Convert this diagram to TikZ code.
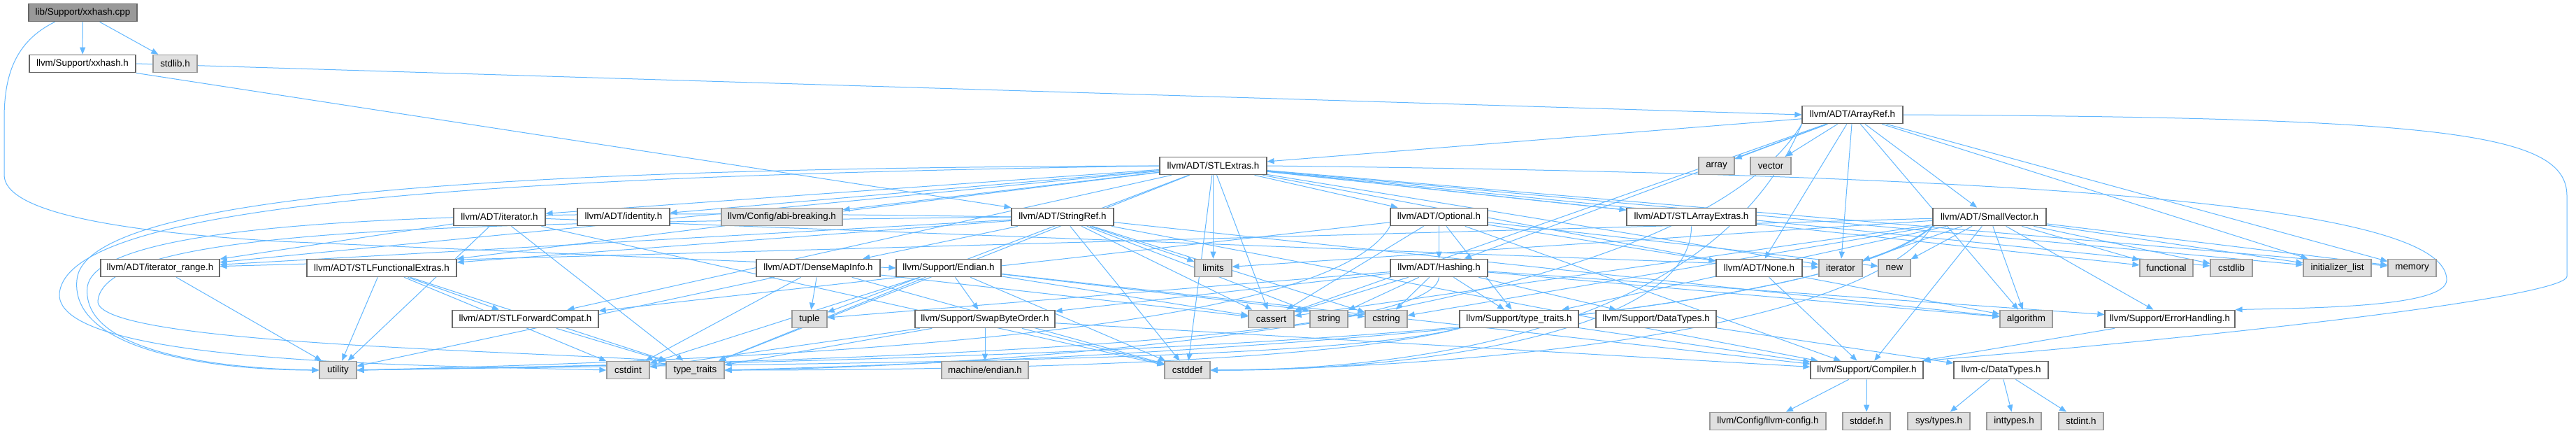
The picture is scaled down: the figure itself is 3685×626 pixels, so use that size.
\documentclass[tikz,border=0pt]{standalone}
\usepackage{fontspec}
\setmainfont{Liberation Sans}
\usetikzlibrary{arrows.meta}
\pgfdeclarelayer{back}
\pgfdeclarelayer{edges}
\pgfsetlayers{back,edges,main}
\definecolor{edgeblue}{HTML}{63B8FF}
\definecolor{hdrborder}{HTML}{666666}
\definecolor{sysfill}{HTML}{E0E0E0}
\definecolor{sysborder}{HTML}{999999}
\definecolor{mainfill}{HTML}{999999}
\tikzset{
  hdr/.style={draw=hdrborder, fill=white, line width=1.2pt, minimum height=25.5pt, inner sep=0pt, font=\fontsize{13.4}{16}\selectfont},
  sys/.style={hdr, draw=sysborder, fill=sysfill},
  root/.style={hdr, fill=mainfill},
  dep/.style={draw=edgeblue, line width=1pt, -{Triangle[length=10pt,width=8pt]}},
}
\begin{document}
\begin{tikzpicture}[x=1pt,y=-1pt]
\begin{pgfonlayer}{back}
\fill[white] (0,0) rectangle (3685,626);
\end{pgfonlayer}
\useasboundingbox (0,0) rectangle (3685,626);
% row 0-2
\node[root, minimum width=155pt] (cpp) at (118.5,18) {lib/Support/xxhash.cpp};
\node[hdr, minimum width=152pt] (xxh) at (118,91) {llvm/Support/xxhash.h};
\node[sys, minimum width=63pt] (stdlib) at (250.5,91) {stdlib.h};
\node[hdr, minimum width=144pt] (arrayref) at (2650,164) {llvm/ADT/ArrayRef.h};
% row 3
\node[hdr, minimum width=153pt] (stlextras) at (1735.5,237) {llvm/ADT/STLExtras.h};
\node[sys, minimum width=51pt] (array) at (2455.5,237) {array};
\node[sys, minimum width=58pt] (vector) at (2533,237) {vector};
% row 4
\node[hdr, minimum width=131pt] (iteratorh) at (714.5,310) {llvm/ADT/iterator.h};
\node[hdr, minimum width=132pt] (identity) at (892,310) {llvm/ADT/identity.h};
\node[sys, minimum width=173pt] (abi) at (1118.5,310) {llvm/Config/abi-breaking.h};
\node[hdr, minimum width=146pt] (stringref) at (1520,310) {llvm/ADT/StringRef.h};
\node[hdr, minimum width=139pt] (optional) at (2058.5,310) {llvm/ADT/Optional.h};
\node[hdr, minimum width=185pt] (stlarray) at (2419.5,310) {llvm/ADT/STLArrayExtras.h};
\node[hdr, minimum width=162pt] (smallvec) at (2846,310) {llvm/ADT/SmallVector.h};
% row 5
\node[hdr, minimum width=170pt] (itrange) at (229,383) {llvm/ADT/iterator\_range.h};
\node[hdr, minimum width=214pt] (stlfunc) at (546,383) {llvm/ADT/STLFunctionalExtras.h};
\node[hdr, minimum width=177pt] (densemap) at (1170.5,383) {llvm/ADT/DenseMapInfo.h};
\node[hdr, minimum width=150pt] (endian) at (1357,383) {llvm/Support/Endian.h};
\node[sys, minimum width=53pt] (limits) at (1735.5,383) {limits};
\node[hdr, minimum width=139pt] (hashing) at (2058.5,383) {llvm/ADT/Hashing.h};
\node[hdr, minimum width=123pt] (none) at (2516.5,383) {llvm/ADT/None.h};
\node[sys, minimum width=62pt] (iterator) at (2633,383) {iterator};
\node[sys, minimum width=46pt] (new) at (2710,383) {new};
\node[sys, minimum width=76pt] (functional) at (3099,383) {functional};
\node[sys, minimum width=60pt] (cstdlib) at (3192,383) {cstdlib};
\node[sys, minimum width=97pt] (initlist) at (3343.5,383) {initializer\_list};
\node[sys, minimum width=69pt] (memory) at (3450.5,383) {memory};
% row 6
\node[hdr, minimum width=209pt] (stlfwd) at (751.5,456) {llvm/ADT/STLForwardCompat.h};
\node[sys, minimum width=50pt] (tuple) at (1158,456) {tuple};
\node[hdr, minimum width=200pt] (swap) at (1409,456) {llvm/Support/SwapByteOrder.h};
\node[sys, minimum width=65pt] (cassert) at (1818.5,456) {cassert};
\node[sys, minimum width=54pt] (string) at (1901,456) {string};
\node[sys, minimum width=60pt] (cstring) at (1983,456) {cstring};
\node[hdr, minimum width=170pt] (typetraitsh) at (2173,456) {llvm/Support/type\_traits.h};
\node[hdr, minimum width=172pt] (datatypes) at (2369,456) {llvm/Support/DataTypes.h};
\node[sys, minimum width=75pt] (algorithm) at (2898.5,456) {algorithm};
\node[hdr, minimum width=186pt] (errhandling) at (3104,456) {llvm/Support/ErrorHandling.h};
% row 7
\node[sys, minimum width=53pt] (utility) at (483.5,529) {utility};
\node[sys, minimum width=61pt] (cstdint) at (898.5,529) {cstdint};
\node[sys, minimum width=83pt] (typetraits) at (994.5,529) {type\_traits};
\node[sys, minimum width=124pt] (machine) at (1409,529) {machine/endian.h};
\node[sys, minimum width=65pt] (cstddef) at (1698.5,529) {cstddef};
\node[hdr, minimum width=161pt] (compiler) at (2670.5,529) {llvm/Support/Compiler.h};
\node[hdr, minimum width=135pt] (cdatatypes) at (2862.5,529) {llvm-c/DataTypes.h};
% row 8
\node[sys, minimum width=166pt] (llvmconfig) at (2529,602) {llvm/Config/llvm-config.h};
\node[sys, minimum width=68pt] (stddef) at (2670,602) {stddef.h};
\node[sys, minimum width=89pt] (systypes) at (2773.5,602) {sys/types.h};
\node[sys, minimum width=78pt] (inttypes) at (2881,602) {inttypes.h};
\node[sys, minimum width=64pt] (stdint) at (2977,602) {stdint.h};

\begin{pgfonlayer}{edges}
% xxhash.cpp
\draw[dep] (cpp) -- (xxh);
\draw[dep] (cpp) -- (stdlib);
\draw[dep] ([xshift=-40pt]cpp.south) .. controls (20,60) and (6,110) .. (6,170) -- (6,250) .. controls (6,300) and (150,330) .. (400,345) -- (endian.west);
% xxhash.h
\draw[dep] (xxh.east) -- (arrayref.west);
\draw[dep] (xxh.south east) -- (stringref.north west);
% ArrayRef.h
\foreach \t in {hashing,none,smallvec,stlextras,algorithm,array,cassert,initlist,iterator,memory,vector}
  \draw[dep] (arrayref) -- (\t);
\draw[dep] (arrayref.east) .. controls (3500,168) and (3672,190) .. (3672,280) -- (3672,395) .. controls (3672,420) and (3300,470) .. (compiler.north east);
\draw[dep] (arrayref.south west) .. controls (2400,470) and (1400,525) .. (typetraits.east);
\draw[dep] (arrayref.south west) .. controls (2450,480) and (2000,529) .. (cstddef.east);
% STLExtras.h
\foreach \t in {optional,stlarray,stlfwd,stlfunc,identity,iteratorh,itrange,abi,algorithm,cassert,cstddef,cstdlib,functional,initlist,iterator,limits,memory,tuple,typetraits}
  \draw[dep] (stlextras) -- (\t);
\draw[dep] (stlextras.west) .. controls (700,240) and (120,280) .. (110,400) .. controls (100,500) and (300,529) .. (utility.west);
\draw[dep] (stlextras.west) .. controls (700,252) and (95,290) .. (85,420) .. controls (80,520) and (600,522) .. (cstdint.west);
\draw[dep] (stlextras.east) .. controls (3000,250) and (3500,300) .. (3500,400) .. controls (3500,440) and (3300,440) .. (errhandling.north east);
% Optional.h
\foreach \t in {hashing,none,stlfwd,compiler,typetraitsh,cassert,new}
  \draw[dep] (optional) -- (\t);
\draw[dep] (optional.south west) .. controls (1900,480) and (1100,514) .. (utility.east);
% STLArrayExtras.h
\draw[dep] (stlarray.south) .. controls (2420,480) and (2000,531) .. (cstddef.east);
% STLForwardCompat.h
\draw[dep] (stlfwd) -- (typetraits);
% STLFunctionalExtras.h
\foreach \t in {stlfwd,cstdint,typetraits,utility}
  \draw[dep] (stlfunc) -- (\t);
% iterator.h
\foreach \t in {itrange,cstddef,iterator,typetraits,utility}
  \draw[dep] (iteratorh) -- (\t);
% iterator_range.h
\draw[dep] (itrange) -- (utility);
% ErrorHandling.h
\draw[dep] (errhandling) -- (compiler);
% Compiler.h
\draw[dep] (compiler) -- (llvmconfig);
\draw[dep] (compiler) -- (stddef);
% Hashing.h
\foreach \t in {datatypes,errhandling,swap,typetraitsh,algorithm,cassert,cstring,string,tuple}
  \draw[dep] (hashing) -- (\t);
\draw[dep] (hashing.south) .. controls (2050,490) and (1200,518) .. (utility.east);
% None.h
\draw[dep] (none) -- (compiler);
% SmallVector.h
\foreach \t in {itrange,compiler,errhandling,typetraitsh,algorithm,cassert,cstdlib,cstring,functional,initlist,iterator,limits,memory,new}
  \draw[dep] (smallvec) -- (\t);
\draw[dep] (smallvec.south west) .. controls (2550,500) and (1200,516) .. (utility.east);
\draw[dep] (smallvec.south west) .. controls (2600,480) and (1300,522) .. (typetraits.east);
\draw[dep] (smallvec.south west) .. controls (2650,490) and (2000,527) .. (cstddef.east);
% StringRef.h
\foreach \t in {densemap,stlfunc,itrange,compiler,algorithm,cassert,cstddef,cstring,limits,string}
  \draw[dep] (stringref) -- (\t);
\draw[dep] (stringref.west) .. controls (800,300) and (140,300) .. (125,410) .. controls (115,505) and (320,527) .. (utility.west);
\draw[dep] (stringref.west) .. controls (700,320) and (150,320) .. (140,430) .. controls (135,490) and (700,500) .. (typetraits.north west);
% DenseMapInfo.h
\foreach \t in {cassert,cstddef,cstdint,tuple,utility}
  \draw[dep] (densemap) -- (\t);
% Endian.h
\foreach \t in {compiler,swap,cassert,cstddef,cstdint,cstring,typetraits}
  \draw[dep] (endian) -- (\t);
% SwapByteOrder.h
\foreach \t in {compiler,cstddef,cstdint,typetraits,machine}
  \draw[dep] (swap) -- (\t);
% type_traits.h
\draw[dep] (typetraitsh) -- (compiler);
\draw[dep] (typetraitsh.south west) .. controls +(-150,40) and +(500,0) .. (typetraits.east);
\draw[dep] (typetraitsh.south west) .. controls +(-200,50) and +(600,-10) .. (utility.east);
% DataTypes
\draw[dep] (datatypes) -- (cdatatypes);
\foreach \t in {inttypes,stdint,systypes}
  \draw[dep] (cdatatypes) -- (\t);
\end{pgfonlayer}
\end{tikzpicture}
\end{document}
